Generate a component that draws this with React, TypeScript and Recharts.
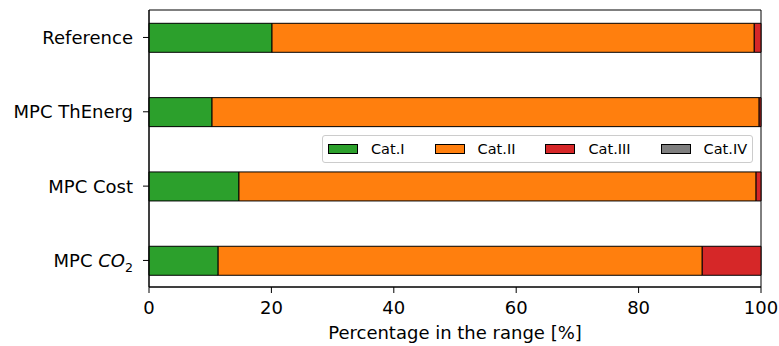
import { Bar, BarChart, CartesianGrid, Legend, XAxis, YAxis } from 'recharts'

const categories = ['Reference', 'MPC ThEnerg', 'MPC Cost', 'MPC CO2']
const catI = [20.1, 10.3, 14.7, 11.3]
const catII = [78.8, 89.4, 84.5, 79.1]
const catIII = [1.1, 0.3, 0.8, 9.6]
const catIV = [0, 0, 0, 0]
const xTicks = [0, 20, 40, 60, 80, 100]

const SERIES = [
  { key: 'catI', label: 'Cat.I', color: '#2ca02c' },
  { key: 'catII', label: 'Cat.II', color: '#ff7f0e' },
  { key: 'catIII', label: 'Cat.III', color: '#d62728' },
  { key: 'catIV', label: 'Cat.IV', color: '#7f7f7f' },
]

const FONT = '"DejaVu Sans", sans-serif'

const rows = categories.map((name, i) => ({
  name,
  catI: catI[i],
  catII: catII[i],
  catIII: catIII[i],
  catIV: catIV[i],
}))

// y tick, with CO2 written as italic CO and subscript 2
function YTick({ x, y, payload }: any) {
  const v = payload.value as string
  if (v === 'MPC CO2') {
    return (
      <text x={x} y={y} dy="0.355em" textAnchor="end" fontSize={18} fontFamily={FONT} fill="#000">
        MPC <tspan fontStyle="italic">CO</tspan>
        <tspan fontSize={12.6} dy={5}>
          2
        </tspan>
      </text>
    )
  }
  return (
    <text x={x} y={y} dy="0.355em" textAnchor="end" fontSize={18} fontFamily={FONT} fill="#000">
      {v}
    </text>
  )
}

function LegendBox() {
  return (
    <div
      style={{
        boxSizing: 'border-box',
        width: '100%',
        height: '100%',
        border: '1px solid #cccccc',
        borderRadius: 3,
        background: 'rgba(255,255,255,0.8)',
        display: 'flex',
        alignItems: 'center',
        paddingLeft: 5,
        fontFamily: FONT,
        fontSize: 14.5,
        color: '#000',
      }}
    >
      {SERIES.map((s, i) => (
        <div key={s.key} style={{ display: 'flex', alignItems: 'center', marginLeft: i === 0 ? 0 : 30 }}>
          <div
            style={{
              boxSizing: 'border-box',
              width: 30,
              height: 10,
              background: s.color,
              border: '1px solid #000',
            }}
          />
          <span style={{ marginLeft: 13 }}>{s.label}</span>
        </div>
      ))}
    </div>
  )
}

export default function App() {
  return (
    <div style={{ position: 'absolute', left: 0, top: 0, background: '#fff' }}>
      <BarChart
        width={779}
        height={346}
        data={rows}
        layout="vertical"
        margin={{ top: 10, right: 18, bottom: 0, left: 0 }}
      >
        {/* plot frame: only the outer edges of the plot area */}
        <CartesianGrid
          stroke="#000"
          strokeOpacity={1}
          horizontalCoordinatesGenerator={({ offset }: any) => [offset.top, offset.top + offset.height]}
          verticalCoordinatesGenerator={({ offset }: any) => [offset.left, offset.left + offset.width]}
        />
        <XAxis
          type="number"
          domain={[0, 100]}
          ticks={xTicks}
          height={59}
          tickSize={6}
          tickMargin={8}
          stroke="#000"
          tick={{ fill: '#000', fontSize: 18, fontFamily: FONT }}
          label={{
            value: 'Percentage in the range [%]',
            position: 'insideBottom',
            offset: 7,
            fill: '#000',
            fontSize: 18,
            fontFamily: FONT,
          }}
        />
        <YAxis
          type="category"
          dataKey="name"
          width={149}
          tickSize={6}
          tickMargin={10}
          stroke="#000"
          tick={<YTick />}
          padding={{ top: -9.7, bottom: -10.6 }}
        />
        <Legend
          layout="horizontal"
          verticalAlign="middle"
          align="center"
          content={() => <LegendBox />}
          wrapperStyle={{ position: 'absolute', left: 322, top: 135, width: 431, height: 28 }}
        />
        {SERIES.map((s) => (
          <Bar
            key={s.key}
            dataKey={s.key}
            stackId="a"
            fill={s.color}
            stroke="#000"
            strokeWidth={1}
            barSize={29}
            isAnimationActive={false}
          />
        ))}
      </BarChart>
    </div>
  )
}
